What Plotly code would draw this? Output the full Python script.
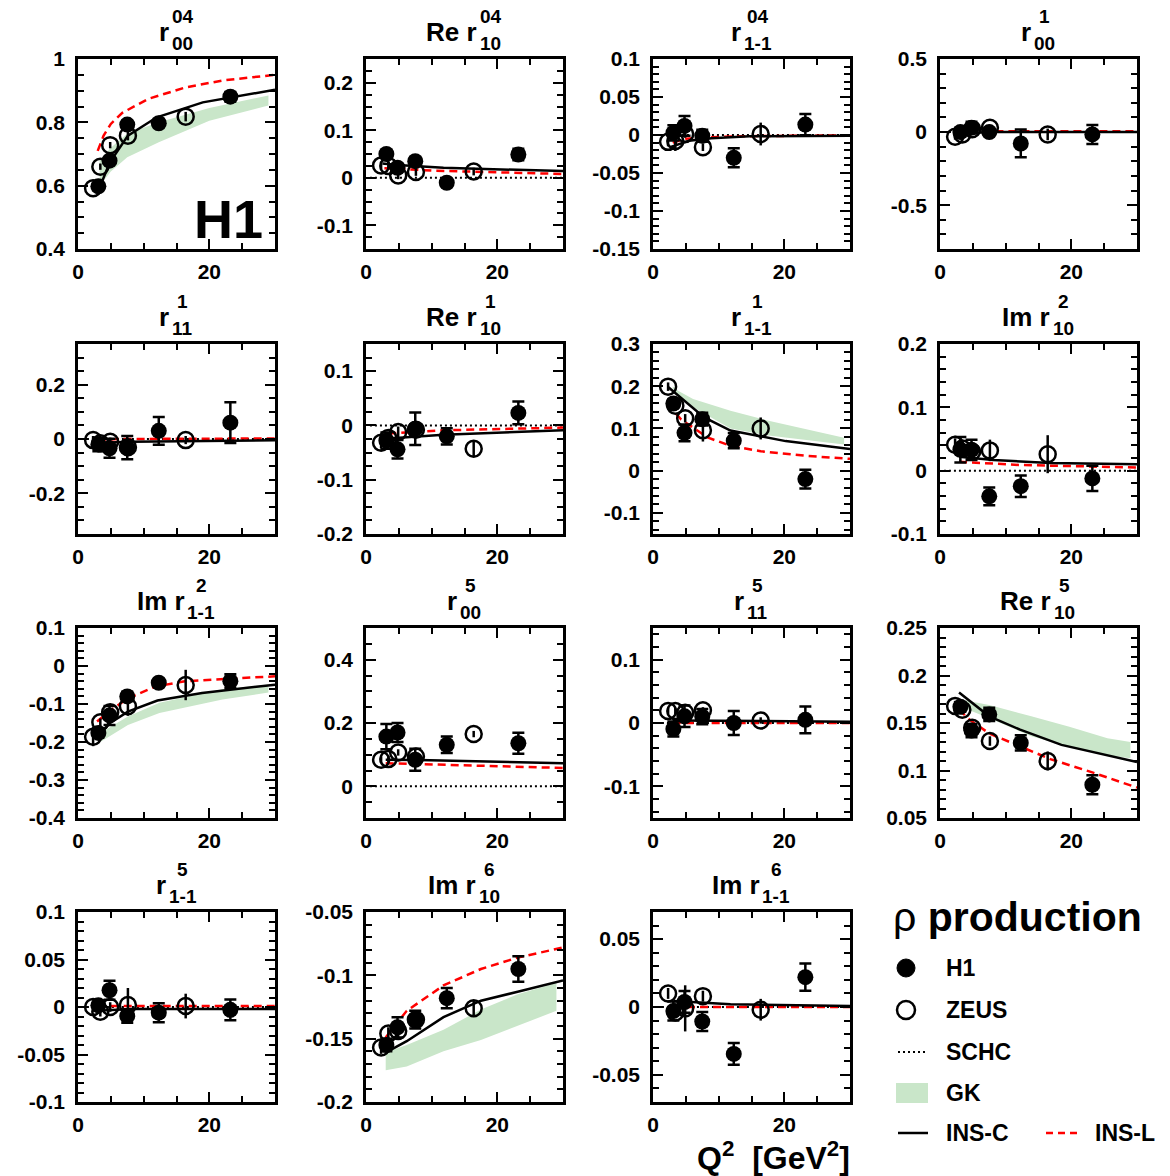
import plotly.graph_objects as go

# ---------------- data ----------------
q2_h1 = [3.1, 4.8, 7.5, 12.3, 23.2]
q2_zeus = [2.3, 3.4, 4.9, 7.6, 16.4]
schc_x = [0.6, 30]

# panel titles
title_base = ["r", "Re r", "r", "r", "r", "Re r", "r", "Im r",
              "Im r", "r", "r", "Re r", "r", "Im r", "Im r"]
title_sup = ["04", "04", "04", "1", "1", "1", "1", "2",
             "2", "5", "5", "5", "5", "6", "6"]
title_sub = ["00", "10", "1-1", "00", "11", "10", "1-1", "10",
             "1-1", "00", "11", "10", "1-1", "10", "1-1"]

# 1  r00^04
r00_04_h1 = [0.598, 0.679, 0.793, 0.797, 0.881]
r00_04_h1_err = [0.010, 0.010, 0.012, 0.012, 0.015]
r00_04_zeus = [0.592, 0.660, 0.728, 0.758, 0.818]
r00_04_zeus_err = [0.010, 0.010, 0.010, 0.015, 0.015]
r00_04_insc_x = [3.0, 4.8, 7.6, 12.0, 19.0, 30.0]
r00_04_insc = [0.578, 0.672, 0.758, 0.816, 0.863, 0.903]
r00_04_insl_x = [3.0, 3.9, 5.0, 6.75, 10.7, 16.3, 22.0, 30.0]
r00_04_insl = [0.710, 0.758, 0.795, 0.830, 0.874, 0.910, 0.932, 0.950]
r00_04_gk_x = [3.3, 5.0, 7.5, 12.3, 20.0, 29.0]
r00_04_gk_hi = [0.680, 0.720, 0.765, 0.800, 0.845, 0.885]
r00_04_gk_lo = [0.600, 0.645, 0.690, 0.737, 0.805, 0.853]

# 2  Re r10^04
re_r10_04_h1 = [0.050, 0.021, 0.035, -0.0105, 0.049]
re_r10_04_h1_err = [0.008, 0.008, 0.008, 0.008, 0.012]
re_r10_04_zeus = [0.026, 0.025, 0.005, 0.012, 0.013]
re_r10_04_zeus_err = [0.008, 0.008, 0.008, 0.008, 0.008]
re_r10_04_insc_x = [2.5, 4.8, 11.8, 23.1, 30.0]
re_r10_04_insc = [0.030, 0.027, 0.021, 0.016, 0.014]
re_r10_04_insl_x = [2.8, 5.0, 10.0, 20.0, 30.0]
re_r10_04_insl = [0.020, 0.019, 0.015, 0.011, 0.008]

# 3  r1-1^04
r1m1_04_h1 = [0.0027, 0.012, -0.001, -0.030, 0.0137]
r1m1_04_h1_err = [0.010, 0.013, 0.008, 0.0125, 0.014]
r1m1_04_zeus = [-0.009, -0.008, 0.0013, -0.016, 0.0013]
r1m1_04_zeus_err = [0.006, 0.013, 0.005, 0.005, 0.015]
r1m1_04_insc_x = [2.6, 5.5, 8.9, 14.7, 30.0]
r1m1_04_insc = [-0.016, -0.0075, -0.0044, -0.0018, -0.001]
r1m1_04_insl_x = [3.0, 5.0, 8.0, 15.0, 30.0]
r1m1_04_insl = [-0.010, -0.005, -0.003, -0.0015, -0.0005]

# 4  r00^1
r00_1_h1 = [0.0, 0.03, 0.0, -0.078, -0.016]
r00_1_h1_err = [0.03, 0.04, 0.02, 0.095, 0.065]
r00_1_zeus = [-0.032, -0.016, 0.02, 0.03, -0.016]
r00_1_zeus_err = [0.02, 0.02, 0.02, 0.02, 0.04]
r00_1_insc_x = [2.5, 8.0, 30.0]
r00_1_insc = [-0.01, 0.0, 0.0]
r00_1_insl_x = [2.5, 30.0]
r00_1_insl = [0.005, 0.005]

# 5  r11^1
r11_1_h1 = [-0.020, -0.034, -0.032, 0.030, 0.060]
r11_1_h1_err = [0.025, 0.035, 0.043, 0.051, 0.075]
r11_1_zeus = [-0.004, -0.016, -0.010, -0.030, -0.004]
r11_1_zeus_err = [0.015, 0.015, 0.015, 0.015, 0.015]
r11_1_insc_x = [2.5, 8.0, 30.0]
r11_1_insc = [-0.015, -0.010, -0.005]
r11_1_insl_x = [3.0, 6.0, 30.0]
r11_1_insl = [-0.005, 0.0, 0.002]

# 6  Re r10^1
re_r10_1_h1 = [-0.028, -0.044, -0.006, -0.020, 0.023]
re_r10_1_h1_err = [0.015, 0.017, 0.030, 0.015, 0.021]
re_r10_1_zeus = [-0.032, -0.023, -0.012, -0.008, -0.043]
re_r10_1_zeus_err = [0.010, 0.010, 0.010, 0.010, 0.015]
re_r10_1_insc_x = [2.3, 11.8, 30.0]
re_r10_1_insc = [-0.025, -0.017, -0.009]
re_r10_1_insl_x = [3.4, 11.8, 30.0]
re_r10_1_insl = [-0.015, -0.009, -0.004]

# 7  r1-1^1
r1m1_1_h1 = [0.159, 0.0896, 0.122, 0.071, -0.020]
r1m1_1_h1_err = [0.010, 0.020, 0.015, 0.018, 0.022]
r1m1_1_zeus = [0.199, 0.154, 0.124, 0.096, 0.100]
r1m1_1_zeus_err = [0.010, 0.010, 0.010, 0.027, 0.026]
r1m1_1_insc_x = [2.3, 4.8, 7.8, 11.8, 20.2, 30.0]
r1m1_1_insc = [0.198, 0.166, 0.126, 0.095, 0.070, 0.051]
r1m1_1_insl_x = [3.5, 4.3, 8.4, 11.8, 16.4, 23.4, 30.0]
r1m1_1_insl = [0.135, 0.121, 0.078, 0.059, 0.046, 0.035, 0.028]
r1m1_1_gk_x = [3.0, 3.75, 6.1, 11.8, 17.6, 23.4, 29.1]
r1m1_1_gk_hi = [0.200, 0.190, 0.170, 0.142, 0.118, 0.098, 0.078]
r1m1_1_gk_lo = [0.195, 0.180, 0.150, 0.100, 0.083, 0.072, 0.062]

# 8  Im r10^2
im_r10_2_h1 = [0.033, 0.033, -0.0405, -0.0245, -0.0123]
im_r10_2_h1_err = [0.020, 0.016, 0.014, 0.017, 0.020]
im_r10_2_zeus = [0.041, 0.035, 0.030, 0.032, 0.026]
im_r10_2_zeus_err = [0.010, 0.010, 0.010, 0.017, 0.030]
im_r10_2_insc_x = [2.9, 8.1, 16.8, 30.0]
im_r10_2_insc = [0.022, 0.017, 0.012, 0.010]
im_r10_2_insl_x = [2.9, 12.0, 30.0]
im_r10_2_insl = [0.014, 0.009, 0.005]

# 9  Im r1-1^2
im_r1m1_2_h1 = [-0.176, -0.130, -0.080, -0.044, -0.040]
im_r1m1_2_h1_err = [0.012, 0.025, 0.012, 0.010, 0.018]
im_r1m1_2_zeus = [-0.186, -0.148, -0.122, -0.106, -0.050]
im_r1m1_2_zeus_err = [0.025, 0.010, 0.010, 0.025, 0.040]
im_r1m1_2_insc_x = [2.9, 4.9, 7.6, 12.1, 18.9, 30.0]
im_r1m1_2_insc = [-0.186, -0.150, -0.120, -0.091, -0.071, -0.049]
im_r1m1_2_insl_x = [2.9, 5.1, 7.6, 11.8, 16.3, 22.0, 30.0]
im_r1m1_2_insl = [-0.146, -0.115, -0.085, -0.054, -0.040, -0.035, -0.027]
im_r1m1_2_gk_x = [3.4, 7.6, 12.4, 22.0, 29.0]
im_r1m1_2_gk_hi = [-0.176, -0.133, -0.097, -0.061, -0.049]
im_r1m1_2_gk_lo = [-0.200, -0.155, -0.124, -0.088, -0.070]

# 10  r00^5
r00_5_h1 = [0.157, 0.170, 0.084, 0.131, 0.136]
r00_5_h1_err = [0.040, 0.030, 0.035, 0.026, 0.033]
r00_5_zeus = [0.084, 0.086, 0.107, 0.094, 0.165]
r00_5_zeus_err = [0.010, 0.010, 0.010, 0.010, 0.010]
r00_5_insc_x = [3.0, 8.0, 30.0]
r00_5_insc = [0.084, 0.083, 0.073]
r00_5_insl_x = [3.0, 12.0, 30.0]
r00_5_insl = [0.073, 0.068, 0.058]

# 11  r11^5
r11_5_h1 = [-0.0095, 0.0105, 0.010, 0.0, 0.005]
r11_5_h1_err = [0.012, 0.017, 0.012, 0.019, 0.021]
r11_5_zeus = [0.019, 0.019, 0.016, 0.020, 0.004]
r11_5_zeus_err = [0.005, 0.005, 0.005, 0.005, 0.005]
r11_5_insc_x = [3.0, 30.0]
r11_5_insc = [0.004, 0.002]
r11_5_insl_x = [3.0, 30.0]
r11_5_insl = [0.0, 0.0]

# 12  Re r10^5
re_r10_5_h1 = [0.167, 0.142, 0.159, 0.129, 0.085]
re_r10_5_h1_err = [0.005, 0.007, 0.007, 0.008, 0.010]
re_r10_5_zeus = [0.168, 0.164, 0.145, 0.131, 0.110]
re_r10_5_zeus_err = [0.005, 0.005, 0.005, 0.005, 0.010]
re_r10_5_insc_x = [2.9, 7.5, 12.2, 18.5, 30.0]
re_r10_5_insc = [0.182, 0.157, 0.143, 0.127, 0.109]
re_r10_5_insl_x = [2.9, 4.6, 7.5, 12.2, 16.8, 23.2, 30.0]
re_r10_5_insl = [0.164, 0.153, 0.139, 0.125, 0.112, 0.098, 0.082]
re_r10_5_gk_x = [2.9, 7.5, 13.9, 19.7, 25.5, 29.0]
re_r10_5_gk_hi = [0.175, 0.169, 0.157, 0.146, 0.134, 0.130]
re_r10_5_gk_lo = [0.168, 0.155, 0.136, 0.125, 0.116, 0.113]

# 13  r1-1^5
r1m1_5_h1 = [0.0018, 0.0176, -0.0095, -0.006, -0.003]
r1m1_5_h1_err = [0.005, 0.010, 0.007, 0.010, 0.011]
r1m1_5_zeus = [0.0, -0.005, 0.0, 0.002, 0.001]
r1m1_5_zeus_err = [0.005, 0.005, 0.005, 0.018, 0.013]
r1m1_5_insc_x = [3.0, 8.0, 30.0]
r1m1_5_insc = [-0.004, -0.002, -0.002]
r1m1_5_insl_x = [3.0, 30.0]
r1m1_5_insl = [0.001, 0.001]

# 14  Im r10^6
im_r10_6_h1 = [-0.155, -0.141, -0.135, -0.118, -0.095]
im_r10_6_h1_err = [0.005, 0.008, 0.007, 0.008, 0.010]
im_r10_6_zeus = [-0.157, -0.146, -0.144, -0.135, -0.126]
im_r10_6_zeus_err = [0.005, 0.005, 0.005, 0.005, 0.006]
im_r10_6_insc_x = [3.0, 6.2, 11.8, 17.5, 23.1, 30.0]
im_r10_6_insc = [-0.161, -0.152, -0.133, -0.120, -0.113, -0.104]
im_r10_6_insl_x = [3.0, 6.2, 11.8, 17.5, 23.1, 30.0]
im_r10_6_insl = [-0.149, -0.128, -0.108, -0.095, -0.086, -0.078]
im_r10_6_gk_x = [3.0, 6.2, 11.8, 17.5, 23.1, 29.0]
im_r10_6_gk_hi = [-0.161, -0.155, -0.143, -0.127, -0.115, -0.106]
im_r10_6_gk_lo = [-0.175, -0.172, -0.160, -0.151, -0.140, -0.128]

# 15  Im r1-1^6
im_r1m1_6_h1 = [-0.003, 0.0037, -0.0107, -0.0346, 0.022]
im_r1m1_6_h1_err = [0.007, 0.008, 0.007, 0.008, 0.010]
im_r1m1_6_zeus = [0.010, -0.004, -0.001, 0.008, -0.002]
im_r1m1_6_zeus_err = [0.004, 0.004, 0.017, 0.004, 0.008]
im_r1m1_6_insc_x = [3.2, 11.8, 30.0]
im_r1m1_6_insc = [0.0044, 0.002, 0.0007]
im_r1m1_6_insl_x = [3.2, 30.0]
im_r1m1_6_insl = [0.0, 0.0]

# ---------------- panel table ----------------
panels = [
    dict(h1=r00_04_h1, h1e=r00_04_h1_err, ze=r00_04_zeus, zee=r00_04_zeus_err,
         cx=r00_04_insc_x, cy=r00_04_insc, lx=r00_04_insl_x, ly=r00_04_insl,
         gx=r00_04_gk_x, ghi=r00_04_gk_hi, glo=r00_04_gk_lo, schc=False,
         rng=[0.4, 1.0], major=0.2, minor=0.05),
    dict(h1=re_r10_04_h1, h1e=re_r10_04_h1_err, ze=re_r10_04_zeus, zee=re_r10_04_zeus_err,
         cx=re_r10_04_insc_x, cy=re_r10_04_insc, lx=re_r10_04_insl_x, ly=re_r10_04_insl,
         gx=None, schc=True, rng=[-0.15, 0.25], major=0.1, minor=0.025),
    dict(h1=r1m1_04_h1, h1e=r1m1_04_h1_err, ze=r1m1_04_zeus, zee=r1m1_04_zeus_err,
         cx=r1m1_04_insc_x, cy=r1m1_04_insc, lx=r1m1_04_insl_x, ly=r1m1_04_insl,
         gx=None, schc=True, rng=[-0.15, 0.1], major=0.05, minor=0.01),
    dict(h1=r00_1_h1, h1e=r00_1_h1_err, ze=r00_1_zeus, zee=r00_1_zeus_err,
         cx=r00_1_insc_x, cy=r00_1_insc, lx=r00_1_insl_x, ly=r00_1_insl,
         gx=None, schc=True, rng=[-0.8, 0.5], major=0.5, minor=0.1),
    dict(h1=r11_1_h1, h1e=r11_1_h1_err, ze=r11_1_zeus, zee=r11_1_zeus_err,
         cx=r11_1_insc_x, cy=r11_1_insc, lx=r11_1_insl_x, ly=r11_1_insl,
         gx=None, schc=True, rng=[-0.35, 0.35], major=0.2, minor=0.05),
    dict(h1=re_r10_1_h1, h1e=re_r10_1_h1_err, ze=re_r10_1_zeus, zee=re_r10_1_zeus_err,
         cx=re_r10_1_insc_x, cy=re_r10_1_insc, lx=re_r10_1_insl_x, ly=re_r10_1_insl,
         gx=None, schc=True, rng=[-0.2, 0.15], major=0.1, minor=0.025),
    dict(h1=r1m1_1_h1, h1e=r1m1_1_h1_err, ze=r1m1_1_zeus, zee=r1m1_1_zeus_err,
         cx=r1m1_1_insc_x, cy=r1m1_1_insc, lx=r1m1_1_insl_x, ly=r1m1_1_insl,
         gx=r1m1_1_gk_x, ghi=r1m1_1_gk_hi, glo=r1m1_1_gk_lo, schc=False,
         rng=[-0.15, 0.3], major=0.1, minor=0.02),
    dict(h1=im_r10_2_h1, h1e=im_r10_2_h1_err, ze=im_r10_2_zeus, zee=im_r10_2_zeus_err,
         cx=im_r10_2_insc_x, cy=im_r10_2_insc, lx=im_r10_2_insl_x, ly=im_r10_2_insl,
         gx=None, schc=True, rng=[-0.1, 0.2], major=0.1, minor=0.02),
    dict(h1=im_r1m1_2_h1, h1e=im_r1m1_2_h1_err, ze=im_r1m1_2_zeus, zee=im_r1m1_2_zeus_err,
         cx=im_r1m1_2_insc_x, cy=im_r1m1_2_insc, lx=im_r1m1_2_insl_x, ly=im_r1m1_2_insl,
         gx=im_r1m1_2_gk_x, ghi=im_r1m1_2_gk_hi, glo=im_r1m1_2_gk_lo, schc=False,
         rng=[-0.4, 0.1], major=0.1, minor=0.02),
    dict(h1=r00_5_h1, h1e=r00_5_h1_err, ze=r00_5_zeus, zee=r00_5_zeus_err,
         cx=r00_5_insc_x, cy=r00_5_insc, lx=r00_5_insl_x, ly=r00_5_insl,
         gx=None, schc=True, rng=[-0.1, 0.5], major=0.2, minor=0.05),
    dict(h1=r11_5_h1, h1e=r11_5_h1_err, ze=r11_5_zeus, zee=r11_5_zeus_err,
         cx=r11_5_insc_x, cy=r11_5_insc, lx=r11_5_insl_x, ly=r11_5_insl,
         gx=None, schc=True, rng=[-0.15, 0.15], major=0.1, minor=0.02),
    dict(h1=re_r10_5_h1, h1e=re_r10_5_h1_err, ze=re_r10_5_zeus, zee=re_r10_5_zeus_err,
         cx=re_r10_5_insc_x, cy=re_r10_5_insc, lx=re_r10_5_insl_x, ly=re_r10_5_insl,
         gx=re_r10_5_gk_x, ghi=re_r10_5_gk_hi, glo=re_r10_5_gk_lo, schc=False,
         rng=[0.05, 0.25], major=0.05, minor=0.01),
    dict(h1=r1m1_5_h1, h1e=r1m1_5_h1_err, ze=r1m1_5_zeus, zee=r1m1_5_zeus_err,
         cx=r1m1_5_insc_x, cy=r1m1_5_insc, lx=r1m1_5_insl_x, ly=r1m1_5_insl,
         gx=None, schc=True, rng=[-0.1, 0.1], major=0.05, minor=0.01),
    dict(h1=im_r10_6_h1, h1e=im_r10_6_h1_err, ze=im_r10_6_zeus, zee=im_r10_6_zeus_err,
         cx=im_r10_6_insc_x, cy=im_r10_6_insc, lx=im_r10_6_insl_x, ly=im_r10_6_insl,
         gx=im_r10_6_gk_x, ghi=im_r10_6_gk_hi, glo=im_r10_6_gk_lo, schc=False,
         rng=[-0.2, -0.05], major=0.05, minor=0.01),
    dict(h1=im_r1m1_6_h1, h1e=im_r1m1_6_h1_err, ze=im_r1m1_6_zeus, zee=im_r1m1_6_zeus_err,
         cx=im_r1m1_6_insc_x, cy=im_r1m1_6_insc, lx=im_r1m1_6_insl_x, ly=im_r1m1_6_insl,
         gx=None, schc=True, rng=[-0.07, 0.07], major=0.05, minor=0.01),
]

# ---------------- layout geometry (pixels) ----------------
W, H = 1170, 1176
COL_X = [78, 366, 653, 940]
ROW_Y = [59, 344, 628, 912]
PW, PH = 197, 190
FONT = "Liberation Sans, Arial, Helvetica, sans-serif"
GREEN = "#c9e6c9"
RED = "#ff0000"
BASE_FS, SCRIPT_FS = 26, 19


def px(x):
    return x / W


def py(y):
    return 1 - y / H


def fmt(v):
    s = f"{v:.3f}".rstrip("0").rstrip(".")
    if s in ("-0", "", "-"):
        s = "0"
    return s


def ticks_in(rng, step):
    import math
    k0 = math.ceil(rng[0] / step - 1e-6)
    k1 = math.floor(rng[1] / step + 1e-6)
    return [round(k * step, 6) for k in range(k0, k1 + 1)]


fig = go.Figure()
annotations = []
shapes = []

for i, p in enumerate(panels):
    r, c = divmod(i, 4)
    n = i + 1
    xa = "x" if n == 1 else f"x{n}"
    ya = "y" if n == 1 else f"y{n}"
    x0, y0 = COL_X[c], ROW_Y[r]

    # GK band
    if p.get("gx"):
        fig.add_trace(go.Scatter(
            x=list(p["gx"]) + list(p["gx"])[::-1],
            y=list(p["ghi"]) + list(p["glo"])[::-1],
            fill="toself", fillcolor=GREEN, line=dict(width=0),
            mode="lines", hoverinfo="skip", showlegend=False,
            xaxis=xa, yaxis=ya))
    # SCHC
    if p["schc"]:
        fig.add_trace(go.Scatter(
            x=schc_x, y=[0, 0], mode="lines",
            line=dict(color="black", width=2, dash="2px,3px"),
            showlegend=False, xaxis=xa, yaxis=ya))
    # INS-L
    fig.add_trace(go.Scatter(
        x=p["lx"], y=p["ly"], mode="lines",
        line=dict(color=RED, width=2.5, dash="8px,5px"),
        showlegend=False, xaxis=xa, yaxis=ya))
    # INS-C
    fig.add_trace(go.Scatter(
        x=p["cx"], y=p["cy"], mode="lines",
        line=dict(color="black", width=2.5),
        showlegend=False, xaxis=xa, yaxis=ya))
    # H1
    fig.add_trace(go.Scatter(
        x=q2_h1, y=p["h1"], mode="markers",
        marker=dict(symbol="circle", size=16, color="black"),
        error_y=dict(type="data", array=p["h1e"], color="black",
                     thickness=2.5, width=6),
        showlegend=False, xaxis=xa, yaxis=ya))
    # ZEUS
    fig.add_trace(go.Scatter(
        x=q2_zeus, y=p["ze"], mode="markers",
        marker=dict(symbol="circle-open", size=16, color="black",
                    line=dict(width=2.5, color="black")),
        error_y=dict(type="data", array=p["zee"], color="black",
                     thickness=2.5, width=0),
        showlegend=False, xaxis=xa, yaxis=ya))

    majors = ticks_in(p["rng"], p["major"])
    minors = [v for v in ticks_in(p["rng"], p["minor"])
              if all(abs(v - m) > 1e-6 for m in majors)]
    common = dict(showline=True, linewidth=2.5, linecolor="black",
                  mirror="allticks", ticks="inside", ticklen=10,
                  tickwidth=1.5, tickcolor="black", showgrid=False,
                  zeroline=False, fixedrange=True, automargin=False,
                  tickfont=dict(family=FONT, size=21, color="black",
                                weight="bold"))
    fig.layout[("xaxis" if n == 1 else f"xaxis{n}")] = dict(
        common, domain=[px(x0), px(x0 + PW)], anchor=ya, range=[0, 30],
        tickmode="array", tickvals=[0, 20], ticktext=["0", "20"],
        ticklabelstandoff=2,
        minor=dict(ticks="inside", ticklen=6, tickwidth=1.5,
                   tickcolor="black", tickmode="array",
                   tickvals=[5, 10, 15, 25]))
    fig.layout[("yaxis" if n == 1 else f"yaxis{n}")] = dict(
        common, domain=[py(y0 + PH), py(y0)], anchor=xa, range=p["rng"],
        tickmode="array", tickvals=majors, ticktext=[fmt(v) for v in majors],
        ticklabelstandoff=6,
        minor=dict(ticks="inside", ticklen=6, tickwidth=1.5,
                   tickcolor="black", tickmode="array", tickvals=minors))

    # title  (base text + stacked super/subscript)
    base, sup, sub = title_base[i], title_sup[i], title_sub[i]
    cw = {"R": .722, "e": .556, " ": .278, "r": .389, "I": .278, "m": .889,
          "-": .333}
    wb = sum(cw.get(ch, .556) for ch in base) * BASE_FS
    ws = max(sum(cw.get(ch, .556) for ch in sup),
             sum(cw.get(ch, .556) for ch in sub)) * SCRIPT_FS
    xc = x0 + PW / 2
    xb = xc + (wb - ws) / 2
    xs = xb + 1 + ws / 2
    annotations.append(dict(text=base, x=px(xb), y=py(y0 - 27),
                            xref="paper", yref="paper", xanchor="right",
                            yanchor="middle", showarrow=False,
                            font=dict(family=FONT, size=BASE_FS,
                                      color="black", weight="bold")))
    annotations.append(dict(text=sup, x=px(xs), y=py(y0 - 43),
                            xref="paper", yref="paper", xanchor="center",
                            yanchor="middle", showarrow=False,
                            font=dict(family=FONT, size=SCRIPT_FS,
                                      color="black", weight="bold")))
    annotations.append(dict(text=sub, x=px(xs), y=py(y0 - 16),
                            xref="paper", yref="paper", xanchor="center",
                            yanchor="middle", showarrow=False,
                            font=dict(family=FONT, size=SCRIPT_FS,
                                      color="black", weight="bold")))

# H1 label in first panel
annotations.append(dict(text="H1", x=px(265), y=py(219), xref="paper",
                        yref="paper", xanchor="right", yanchor="middle",
                        showarrow=False,
                        font=dict(family=FONT, size=54, color="black",
                                  weight="bold")))

# x-axis title
annotations.append(dict(text="Q<sup>2</sup>&nbsp;&nbsp;[GeV<sup>2</sup>]",
                        x=px(852), y=py(1156), xref="paper", yref="paper",
                        xanchor="right", yanchor="middle", showarrow=False,
                        font=dict(family=FONT, size=32, color="black",
                                  weight="bold")))

# legend block
annotations.append(dict(text="ρ <b>production</b>", x=px(891), y=py(917),
                        xref="paper", yref="paper", xanchor="left",
                        yanchor="middle", showarrow=False,
                        font=dict(family=FONT, size=41, color="black")))
leg_items = [("H1", 944, 968), ("ZEUS", 944, 1010), ("SCHC", 944, 1052),
             ("GK", 944, 1093), ("INS-C", 944, 1133), ("INS-L", 1093, 1133)]
for t, lx, ly in leg_items:
    annotations.append(dict(text=t, x=px(lx), y=py(ly), xref="paper",
                            yref="paper", xanchor="left", yanchor="middle",
                            showarrow=False,
                            font=dict(family=FONT, size=23, color="black",
                                      weight="bold")))

shapes.append(dict(type="circle", xref="paper", yref="paper",
                   x0=px(897), x1=px(915), y0=py(977), y1=py(959),
                   fillcolor="black", line=dict(color="black", width=1)))
shapes.append(dict(type="circle", xref="paper", yref="paper",
                   x0=px(897), x1=px(915), y0=py(1019), y1=py(1001),
                   fillcolor="white", line=dict(color="black", width=2.5)))
shapes.append(dict(type="line", xref="paper", yref="paper",
                   x0=px(898), x1=px(928), y0=py(1052), y1=py(1052),
                   line=dict(color="black", width=2, dash="2px,3px")))
shapes.append(dict(type="rect", xref="paper", yref="paper",
                   x0=px(896), x1=px(928), y0=py(1103), y1=py(1083),
                   fillcolor=GREEN, line=dict(width=0)))
shapes.append(dict(type="line", xref="paper", yref="paper",
                   x0=px(898), x1=px(928), y0=py(1133), y1=py(1133),
                   line=dict(color="black", width=2.5)))
shapes.append(dict(type="line", xref="paper", yref="paper",
                   x0=px(1046), x1=px(1078), y0=py(1133), y1=py(1133),
                   line=dict(color=RED, width=2.5, dash="7px,5px")))

fig.update_layout(width=W, height=H, autosize=False,
                  margin=dict(l=0, r=0, t=0, b=0, pad=0, autoexpand=False),
                  paper_bgcolor="white", plot_bgcolor="white",
                  showlegend=False, annotations=annotations, shapes=shapes)

fig.write_html("out.html", config={"displayModeBar": False},
               post_script="document.body.style.margin='0';"
                           "document.body.style.padding='0';")
